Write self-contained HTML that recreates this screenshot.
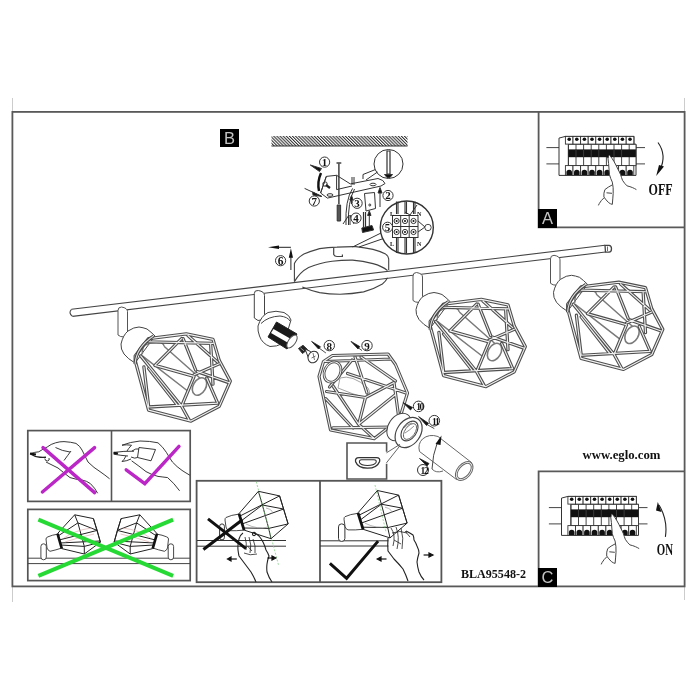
<!DOCTYPE html>
<html><head><meta charset="utf-8">
<style>
html,body{margin:0;padding:0;background:#fff;width:700px;height:700px;overflow:hidden}
svg{position:absolute;left:0;top:0;will-change:transform}
</style></head><body>
<svg width="700" height="700" viewBox="0 0 700 700">
<defs>
<pattern id="hatch" width="2.2" height="3" patternUnits="userSpaceOnUse" patternTransform="rotate(-45)">
<rect width="2.2" height="3" fill="#fff"/><rect width="1.05" height="3" fill="#333"/>
</pattern>
</defs>
<!-- frame ticks -->
<g stroke="#ccc" stroke-width="1">
<line x1="12.5" y1="98" x2="12.5" y2="112"/>
<line x1="12.5" y1="587" x2="12.5" y2="602"/>
<line x1="684.5" y1="98" x2="684.5" y2="112"/>
<line x1="684.5" y1="587" x2="684.5" y2="600"/>
</g>
<!-- frame -->
<rect x="12.4" y="111.9" width="672.2" height="474.5" fill="none" stroke="#595959" stroke-width="1.8"/>
<!-- box A -->
<path d="M538.6 112 V227.3 H684.6" fill="none" stroke="#595959" stroke-width="1.8"/>
<rect x="538" y="209" width="19" height="19" fill="#000"/>
<!-- box C -->
<path d="M538.6 586.4 V471.4 H684.6" fill="none" stroke="#595959" stroke-width="1.8"/>
<rect x="538" y="568" width="19" height="19" fill="#000"/>
<!-- label B -->
<rect x="220" y="129" width="19" height="18" fill="#000"/>
<!-- hatch -->
<rect x="271.5" y="136" width="136" height="10" fill="url(#hatch)"/>
<line x1="271.5" y1="146" x2="407.5" y2="146" stroke="#333" stroke-width="1"/>
<!-- magenta box -->
<rect x="27.8" y="430.6" width="162.4" height="70.8" fill="none" stroke="#555" stroke-width="1.7"/>
<line x1="111.5" y1="430.5" x2="111.5" y2="501.5" stroke="#555" stroke-width="1.6"/>
<!-- green box -->
<rect x="27.8" y="509.4" width="162.4" height="71.2" fill="none" stroke="#555" stroke-width="1.7"/>
<!-- middle box -->
<rect x="196.6" y="480.8" width="244.8" height="101.4" fill="none" stroke="#555" stroke-width="1.8"/>
<line x1="320" y1="481" x2="320" y2="582" stroke="#555" stroke-width="1.8"/>
<!-- small box -->
<path d="M386.6 451.7 V443 H347 V479 H386.6 V463.7" fill="none" stroke="#555" stroke-width="1.6"/>

<!-- ROD -->
<g fill="none" stroke="#444" stroke-width="1.1">
<path d="M71.5 309.3 L605 245.3 M72.5 316.4 L605.5 252"/>
<path d="M71.5 309.3 Q68 313 72.5 316.4"/>
<path d="M605 245.3 H609 Q611.5 245.5 611.5 248.7 Q611.5 252 609 252.1 H605.5 Z" fill="#fff" stroke-width="1.3"/><path d="M607.5 246.5 V251" stroke-width="0.8"/>
</g>
<!-- CANOPY -->
<g fill="none" stroke="#444" stroke-width="1.1">
<path d="M294.4 281.6 V263.6 Q297 258 303.9 254.1 Q311 251 319.6 248.6 Q328 247.3 336.9 247.1 Q346 246.5 355.7 246.6 Q365 247.5 373 249.4 Q381 251.5 385.6 254.1 Q388.5 256 388.7 258.9 V270"/>
<path d="M294.4 281.6 Q300 272 308.6 267.5 Q319 263 332.1 261.2 Q342 260 352.6 260.1 Q363 261 373 263.6 Q382 266 387.5 270.5"/>
<path d="M302.3 287.1 Q310 290.5 319.6 292.6 Q329 294.2 340 294.2 Q352 294 363.6 291.9 Q374 289 382.4 284 Q386 281 387.5 277.7"/>
<path d="M333.7 248 V254.5 Q334.5 256.5 337 256.5 H342.4 V254.5" stroke-width="1.2"/>
</g>

<defs>
<g id="cage">
<path d="M118 335 V310.5 Q118 307 121.5 307 Q127.5 308 127.5 311.5 V332 L124.5 337 Q120 337 118 335 Z" fill="#fff" stroke="#555" stroke-width="1"/>
<path d="M135 363 Q128 359 124 354 Q120.5 349 121 344 Q123 335 128 331 Q134 327 139 327 Q143 327.5 147 329 Q151 332 155 336 Z" fill="#fff" stroke="#444" stroke-width="1"/>
<path d="M164.3 346.5 L201 379 M142.3 355.9 L189 392 M142.3 354.4 Q142 347 145.4 344.9 Q152 341 161.1 342.6 Q164 344 164.3 346.5" fill="none" stroke="#7a7a7a" stroke-width="1.5"/>
<ellipse cx="199.5" cy="386.5" rx="6.3" ry="9.4" transform="rotate(30 199.5 386.5)" fill="#fff" stroke="#7a7a7a" stroke-width="1.6"/>
<path d="M135.2 355.9 L148.6 338.6 L186.3 333.9 L213 339.4 L219.3 360.6 L230.3 381.1 L219.3 406.2 L191 421.1 L148.6 410.1 L135.2 360.6 Z
M148.6 341.8 L213 343.4
M181.6 338.6 L154.9 365.4
M183.1 338.6 L195.7 370.1
M187.9 335.5 L217.7 362.2
M154.9 365.4 L194.1 376.4
M194.1 374.8 L219.3 363.8
M194.1 376.4 L181.6 406.2
M140.7 355.9 L181.6 406.2 L189.4 420.4
M206.7 378 L217.7 403.1
M148.6 407 L217.7 403.1
M143.9 366.9 L148.6 406.2
M210.6 343.4 L213 384.2
M197.3 371.6 L228.7 382.6
M148.6 368.5 L176.9 404.6" fill="none" stroke="#4f4f4f" stroke-width="3.3" stroke-linejoin="round" stroke-linecap="round"/>
<path d="M135.2 355.9 L148.6 338.6 L186.3 333.9 L213 339.4 L219.3 360.6 L230.3 381.1 L219.3 406.2 L191 421.1 L148.6 410.1 L135.2 360.6 Z
M148.6 341.8 L213 343.4
M181.6 338.6 L154.9 365.4
M183.1 338.6 L195.7 370.1
M187.9 335.5 L217.7 362.2
M154.9 365.4 L194.1 376.4
M194.1 374.8 L219.3 363.8
M194.1 376.4 L181.6 406.2
M140.7 355.9 L181.6 406.2 L189.4 420.4
M206.7 378 L217.7 403.1
M148.6 407 L217.7 403.1
M143.9 366.9 L148.6 406.2
M210.6 343.4 L213 384.2
M197.3 371.6 L228.7 382.6
M148.6 368.5 L176.9 404.6" fill="none" stroke="#f2f2f2" stroke-width="1.1" stroke-linejoin="round" stroke-linecap="round"/>
<path d="M135.1 364.1 Q136 347.5 153.4 336" fill="none" stroke="#444" stroke-width="3.2"/><path d="M135.1 364.1 Q136 347.5 153.4 336" fill="none" stroke="#ddd" stroke-width="1.1"/>
</g>
</defs>
<use href="#cage"/>
<use href="#cage" transform="translate(295,-34.5)"/>
<use href="#cage" transform="translate(432.5,-51.7)"/>

<!-- CAGE 2 -->
<g>
<path d="M340 378 Q352 374 368 388 Q372 395 366 398 Q352 394 338 388 Z" fill="#fff" stroke="#999" stroke-width="0.9"/>
<path d="M332.5 355.5 L388 354 L395.5 364.5 L407.5 393 L399.5 419 L374.3 438.6 L330.5 430 L319 376.5 L323.5 361.5 Z
M325 361.5 L391 359
M352 360 L329.5 387
M355 357 L367 393
M361 357 L395.5 381
M347.5 373.5 L406 393
M326.5 391.5 L365.5 397.5 L394 382.5
M365.5 397.5 L358.6 424.3 L374.3 438.6
M333 386 L358.6 424.3
M394 382.5 L398.5 415.5
M395 395 L358.6 424.3
M332.9 427.9 L394 427
M325.7 398.6 L353 428" fill="none" stroke="#4f4f4f" stroke-width="3.2" stroke-linejoin="round" stroke-linecap="round"/>
<path d="M332.5 355.5 L388 354 L395.5 364.5 L407.5 393 L399.5 419 L374.3 438.6 L330.5 430 L319 376.5 L323.5 361.5 Z
M325 361.5 L391 359
M352 360 L329.5 387
M355 357 L367 393
M361 357 L395.5 381
M347.5 373.5 L406 393
M326.5 391.5 L365.5 397.5 L394 382.5
M365.5 397.5 L358.6 424.3 L374.3 438.6
M333 386 L358.6 424.3
M394 382.5 L398.5 415.5
M395 395 L358.6 424.3
M332.9 427.9 L394 427
M325.7 398.6 L353 428" fill="none" stroke="#f2f2f2" stroke-width="1.1" stroke-linejoin="round" stroke-linecap="round"/>
<ellipse cx="332.5" cy="372" rx="8" ry="10.5" transform="rotate(25 332.5 372)" fill="#fff" stroke="#505050" stroke-width="2.8"/><ellipse cx="332.5" cy="372" rx="8" ry="10.5" transform="rotate(25 332.5 372)" fill="none" stroke="#fff" stroke-width="0.9"/>
</g>

<!-- HOLDER 2 -->
<g stroke="#444" stroke-width="1" fill="none">
<path d="M254.3 318 V293.5 Q254.3 290 258.3 290.5 Q264.5 291.5 264.5 295.5 V317 Q262 321 258 320.5 Z" fill="#fff"/>
<path d="M258 326 Q261 316 268 312.5 Q276 310 284 312.5 Q290 315.5 291 320 L284 343 Q276 347 270 346.5 Q262 343.5 259.5 336 Q257.5 331 258 326 Z" fill="#fff"/>
<path d="M261 323.5 Q268 316.5 280 316 Q288 317 290 321" />
<path d="M276.5 322 L297 334 L287 349 L268 337 Z" fill="#1a1a1a" stroke="#222"/>
<path d="M273.5 329 L293.5 340.5 L291 344.5 L271 333 Z" fill="#fff" stroke="none"/>
<ellipse cx="292" cy="341.5" rx="3.6" ry="7.5" transform="rotate(35 292 341.5)" fill="#fff" stroke="#555"/>
</g>
<!-- G9 bulb -->
<g stroke="#333" stroke-width="1" fill="#fff">
<path d="M298.5 348.5 L303 345.3 L307.5 349.5 L302.5 353.5 Z" fill="#222"/>
<path d="M300.5 348 L304 350.8" stroke="#bbb" stroke-width="0.8"/>
<path d="M305 349 L310.5 351.5 L316 362 L308.5 358 Z" fill="#fff"/>
<ellipse cx="313.3" cy="357" rx="5" ry="6" transform="rotate(30 313.3 357)"/>
<path d="M313 353 L314.5 360 M311.5 358 L315.5 356" stroke="#555" stroke-width="0.8"/>
</g>
<!-- part number circles -->
<g fill="#fff" stroke="#333" stroke-width="1">
<circle cx="329.3" cy="345.6" r="5.2"/>
<circle cx="367" cy="345.6" r="5.2"/>
<circle cx="418.6" cy="406.4" r="5.3"/>
<circle cx="434.3" cy="420.7" r="5.3"/>
<circle cx="423" cy="470" r="5.5"/>
</g>
<g font-family="Liberation Serif" font-weight="bold" fill="#111" text-anchor="middle">
<text x="329.3" y="349.6" font-size="11">8</text>
<text x="367" y="349.6" font-size="11">9</text>
<text x="419.6" y="410.2" font-size="9.5" letter-spacing="-1.3">10</text>
<text x="435.3" y="424.5" font-size="9.5" letter-spacing="-1.3">11</text>
<text x="424" y="473.8" font-size="9.5" letter-spacing="-1.3">12</text>
</g>
<!-- arrows -->
<g fill="#111" stroke="#222" stroke-width="0.8">
<path d="M311.6 341.4 L320.5 346.8 L318.5 349 Z"/><line x1="319" y1="348" x2="325.9" y2="353"/>
<path d="M351 341.4 L359.8 346.6 L358 349 Z"/><line x1="358.5" y1="348" x2="362" y2="350.5"/>
<path d="M402.9 402.5 L412.5 407.5 L410.5 410 Z"/>
<path d="M418.6 416.6 L428.5 423.3 L426.5 425.5 Z"/><line x1="427" y1="424.5" x2="434.3" y2="428.6"/>
<path d="M419.5 458.5 L429 463.5 L427 466 Z"/>
</g>
<!-- RING -->
<g stroke="#444" stroke-width="1" fill="#fff">
<ellipse cx="399" cy="427" rx="10.5" ry="15" transform="rotate(35 399 427)"/>
<ellipse cx="408.6" cy="432.5" rx="11.8" ry="16.5" transform="rotate(35 408.6 432.5)" stroke-width="1.2"/>
<ellipse cx="409.5" cy="431" rx="7" ry="11" transform="rotate(35 409.5 431)" stroke-width="1.1"/>
<ellipse cx="410" cy="431.5" rx="5" ry="9" transform="rotate(35 410 431.5)" stroke="#666" stroke-width="0.9"/>
<path d="M404 428 Q407 424 412 423 M405 433 Q410 430 414 426" fill="none" stroke="#777" stroke-width="0.8"/>
</g>
<!-- callout lines small box -->
<g stroke="#555" stroke-width="0.9" fill="none">
<path d="M386.4 452.9 L400 444.3 M386.4 462.9 L400 445.7"/>
</g>
<!-- D shape -->
<path d="M359 457.7 H376.5 Q380.5 457.7 379.6 461.5 Q377 468.2 367.5 468.2 Q358 468.2 355.6 461.8 Q354.8 457.7 359 457.7 Z" fill="#fff" stroke="#333" stroke-width="1.3"/>
<path d="M361.5 459.8 H374 Q377 459.8 376 462.5 Q374 465.5 367.5 465.5 Q361 465.5 359.6 462.8 Q358.8 459.8 361.5 459.8 Z" fill="none" stroke="#333" stroke-width="1.1"/>
<!-- TUBE -->
<g stroke="#666" stroke-width="1" fill="#fff">
<path d="M438 436.5 L471.5 462.5 L456.5 479.5 L419.5 451.5 Q417.5 444 422.5 439 Q429 433.5 438 436.5 Z"/>
<ellipse cx="464.2" cy="471" rx="7" ry="10.8" transform="rotate(40 464.2 471)"/>
<ellipse cx="464.2" cy="471" rx="5.3" ry="9" transform="rotate(40 464.2 471)"/>
<path d="M432 469 Q432.5 455 437.5 442" fill="none" stroke="#444"/>
<path d="M441.5 435.5 L435.5 444 L440.5 445 Z" fill="#111" stroke="none"/>
<path d="M432 469 Q436 473.5 443 471" fill="none"/>
</g>

<!-- CEILING BRACKET ASSEMBLY -->
<g stroke="#333" stroke-width="1" fill="none">
<!-- plate -->
<path d="M320.6 193 L326.3 176.4 L336.6 175.3 L350.3 183.9 L378 178.5 Q384 180 385 183.5 L381 186 L327.4 198.1 Z" fill="#fff"/>
<path d="M336.6 175.3 V189.6 M326.3 176.4 L320.6 193"/>
<path d="M336.6 189.6 L352 186"/>
<ellipse cx="330" cy="195" rx="3" ry="1.3"/><ellipse cx="373" cy="184.5" rx="3" ry="1.3"/>
<!-- long screw -->
<path d="M338.9 163.5 V204" stroke-width="1.4"/>
<path d="M336.5 163 H341.3" stroke-width="1.4"/>
<path d="M337.2 205 H340.6 V221 H337.2 Z" fill="#555"/>
<!-- clip 7 -->
<path d="M321 173 Q317 182 319 191" stroke="#111" stroke-width="2.4"/>
<circle cx="325" cy="184" r="2.2"/><path d="M326 185 L330 188" stroke-width="2.2" stroke="#222"/>
<!-- post -->
<path d="M352 177 V185 M354 177 V185"/>
<!-- wires -->
<path d="M352.6 188.4 Q345 200 346 225 M354.5 189 Q347.5 202 348.5 225 M349 215 L343 224 M350 215 L350 225 M350 215 L354 224"/>
<!-- small bracket -->
<path d="M364.5 193.5 L374.5 192.5 L375.5 208.5 L366 211 Z" fill="#fff"/>
<circle cx="369.8" cy="205" r="1"/>
<path d="M363.5 212 V229 M365.5 212 V229" stroke-width="1.2"/>
<path d="M361.8 228 L372 225.5 L373.6 230 L362.5 232.5 Z" fill="#111"/>
<!-- callout circle -->
<circle cx="388.5" cy="164" r="14.5" fill="#fff"/>
<path d="M375.5 169.5 L363 174.5 V179 M377.5 172 L366 180"/>
<path d="M387 151 L390 151 L390 174 L387 174 Z" fill="#fff" stroke-width="1.2"/>
<path d="M384.5 174.5 H392.5 L390 177.5 H387 Z" fill="#111"/>
<!-- arrow 2 -->
<path d="M380 207 V190"/>
<path d="M380 187.5 L378 193 L382 193 Z" fill="#111"/>
<!-- arrow 3 -->
<path d="M351.5 204 V197"/><path d="M351.5 195.5 L349.8 200 L353.2 200 Z" fill="#111"/>
<!-- arrow 4 -->
<path d="M369.3 226 V213"/><path d="M369.3 210.7 L367.6 215.5 L371 215.5 Z" fill="#111"/>
<!-- arrows 1,7 -->
<path d="M310.3 165 L321.5 168.5 L319.5 171.5 Z" fill="#111"/>
<path d="M304.6 188.4 L321.7 196.4"/>
<path d="M312.6 191.9 L321.7 196.4 L313 195 Z" fill="#111"/>
</g>
<g fill="#fff" stroke="#333" stroke-width="1">
<circle cx="324.6" cy="162.1" r="5.1"/>
<circle cx="314.3" cy="201" r="5.1"/>
<circle cx="357.1" cy="203.3" r="5.1"/>
<circle cx="356" cy="218.1" r="5.1"/>
<circle cx="388" cy="195.5" r="5.1"/>
</g>
<g font-family="Liberation Serif" font-weight="bold" fill="#111" text-anchor="middle" font-size="11">
<text x="324.6" y="166">1</text>
<text x="314.3" y="204.9">7</text>
<text x="357.1" y="207.2">3</text>
<text x="356" y="222">4</text>
<text x="388" y="199.4">2</text>
</g>

<defs>
<g id="panel">
<path d="M546.4 147.6 H559 M546.4 163.9 H559 M636 147.6 H645 M636 163.9 H645" stroke="#444" stroke-width="1"/>
<path d="M559 175.4 V138.1 L565.4 136.4 H634 V144.3 H636 V175.4 Z" fill="#fff" stroke="#333" stroke-width="1"/>
<path d="M568.4 144.3 H636 V165.6 H568.4 Z" fill="#fff" stroke="#333" stroke-width="0.9"/>
<rect x="565.4" y="136.4" width="7.6" height="7.7" fill="#fff" stroke="#333" stroke-width="0.9"/><circle cx="569.2" cy="139.3" r="1.8" fill="#111"/><rect x="565.4" y="165.6" width="7.6" height="9.8" fill="#fff" stroke="#333" stroke-width="0.9"/><path d="M566.4 175 V172.5 A2.8 2.8 0 0 1 572.0 172.5 V175 Z" fill="#111"/><rect x="573.0" y="136.4" width="7.6" height="7.7" fill="#fff" stroke="#333" stroke-width="0.9"/><circle cx="576.8" cy="139.3" r="1.8" fill="#111"/><rect x="573.0" y="165.6" width="7.6" height="9.8" fill="#fff" stroke="#333" stroke-width="0.9"/><path d="M574.0 175 V172.5 A2.8 2.8 0 0 1 579.6 172.5 V175 Z" fill="#111"/><rect x="580.6" y="136.4" width="7.6" height="7.7" fill="#fff" stroke="#333" stroke-width="0.9"/><circle cx="584.4" cy="139.3" r="1.8" fill="#111"/><rect x="580.6" y="165.6" width="7.6" height="9.8" fill="#fff" stroke="#333" stroke-width="0.9"/><path d="M581.6 175 V172.5 A2.8 2.8 0 0 1 587.2 172.5 V175 Z" fill="#111"/><rect x="588.2" y="136.4" width="7.6" height="7.7" fill="#fff" stroke="#333" stroke-width="0.9"/><circle cx="592.0" cy="139.3" r="1.8" fill="#111"/><rect x="588.2" y="165.6" width="7.6" height="9.8" fill="#fff" stroke="#333" stroke-width="0.9"/><path d="M589.2 175 V172.5 A2.8 2.8 0 0 1 594.8 172.5 V175 Z" fill="#111"/><rect x="595.8" y="136.4" width="7.6" height="7.7" fill="#fff" stroke="#333" stroke-width="0.9"/><circle cx="599.6" cy="139.3" r="1.8" fill="#111"/><rect x="595.8" y="165.6" width="7.6" height="9.8" fill="#fff" stroke="#333" stroke-width="0.9"/><path d="M596.8 175 V172.5 A2.8 2.8 0 0 1 602.4 172.5 V175 Z" fill="#111"/><rect x="603.4" y="136.4" width="7.6" height="7.7" fill="#fff" stroke="#333" stroke-width="0.9"/><circle cx="607.2" cy="139.3" r="1.8" fill="#111"/><rect x="603.4" y="165.6" width="7.6" height="9.8" fill="#fff" stroke="#333" stroke-width="0.9"/><path d="M604.4 175 V172.5 A2.8 2.8 0 0 1 610.0 172.5 V175 Z" fill="#111"/><rect x="611.0" y="136.4" width="7.6" height="7.7" fill="#fff" stroke="#333" stroke-width="0.9"/><circle cx="614.8" cy="139.3" r="1.8" fill="#111"/><rect x="611.0" y="165.6" width="7.6" height="9.8" fill="#fff" stroke="#333" stroke-width="0.9"/><path d="M612.0 175 V172.5 A2.8 2.8 0 0 1 617.6 172.5 V175 Z" fill="#111"/><rect x="618.6" y="136.4" width="7.6" height="7.7" fill="#fff" stroke="#333" stroke-width="0.9"/><circle cx="622.4" cy="139.3" r="1.8" fill="#111"/><rect x="618.6" y="165.6" width="7.6" height="9.8" fill="#fff" stroke="#333" stroke-width="0.9"/><path d="M619.6 175 V172.5 A2.8 2.8 0 0 1 625.2 172.5 V175 Z" fill="#111"/><rect x="626.2" y="136.4" width="7.6" height="7.7" fill="#fff" stroke="#333" stroke-width="0.9"/><circle cx="630.0" cy="139.3" r="1.8" fill="#111"/><rect x="626.2" y="165.6" width="7.6" height="9.8" fill="#fff" stroke="#333" stroke-width="0.9"/><path d="M627.2 175 V172.5 A2.8 2.8 0 0 1 632.8 172.5 V175 Z" fill="#111"/><line x1="568.4" y1="144.3" x2="568.4" y2="165.6" stroke="#333" stroke-width="0.9"/><line x1="576.0" y1="144.3" x2="576.0" y2="165.6" stroke="#333" stroke-width="0.9"/><line x1="583.6" y1="144.3" x2="583.6" y2="165.6" stroke="#333" stroke-width="0.9"/><line x1="591.2" y1="144.3" x2="591.2" y2="165.6" stroke="#333" stroke-width="0.9"/><line x1="598.8" y1="144.3" x2="598.8" y2="165.6" stroke="#333" stroke-width="0.9"/><line x1="606.4" y1="144.3" x2="606.4" y2="165.6" stroke="#333" stroke-width="0.9"/><line x1="614.0" y1="144.3" x2="614.0" y2="165.6" stroke="#333" stroke-width="0.9"/><line x1="621.6" y1="144.3" x2="621.6" y2="165.6" stroke="#333" stroke-width="0.9"/><line x1="629.2" y1="144.3" x2="629.2" y2="165.6" stroke="#333" stroke-width="0.9"/>
<rect x="568.4" y="149.4" width="67.5" height="7.8" fill="#111"/>
<g stroke="#555" stroke-width="0.6">
<line x1="576" y1="149.8" x2="576" y2="156.8"/><line x1="583.6" y1="149.8" x2="583.6" y2="156.8"/><line x1="591.2" y1="149.8" x2="591.2" y2="156.8"/><line x1="598.8" y1="149.8" x2="598.8" y2="156.8"/><line x1="614" y1="149.8" x2="614" y2="156.8"/><line x1="621.6" y1="149.8" x2="621.6" y2="156.8"/>
</g>
</g>
</defs>
<use href="#panel"/>
<use href="#panel" transform="translate(2.5,360)"/>
<!-- finger A -->
<defs><g id="finger">
<path d="M607.6 154.3 Q608 159 608.6 163.6 Q609 169 609.5 174.7 Q610.5 178.5 612.3 182.1 Q613.5 187.5 613.2 193.3 Q612.8 199 612.3 204.4 L618 200 L636.4 189.6 Q634.5 188.5 632.7 187.7 Q630 186.5 627.1 185.9 Q624.5 183.5 622.5 180.3 Q621.5 177.5 620.6 174.7 Q619.5 172 617.9 169.1 Q616 165 614.1 161.7 Q612 158 609.5 155.2 Z" fill="#fff" stroke="none"/>
<g fill="none" stroke="#444" stroke-width="1">
<path d="M607.6 154.3 Q608 159 608.6 163.6 Q609 169 609.5 174.7 Q610.5 178.5 612.3 182.1 Q613.5 187.5 613.2 193.3 Q612.8 199 612.3 204.4"/>
<path d="M609.5 155.2 Q612 158 614.1 161.7 Q616 165 617.9 169.1 Q619.5 172 620.6 174.7 Q621.5 177.5 622.5 180.3 Q624.5 183.5 627.1 185.9 Q630 186.5 632.7 187.7 Q634.5 188.5 636.4 189.6"/>
<path d="M612.3 184.9 Q608 187 604.9 189.6 Q603.5 193 603.9 197 Q606 200 608.6 202.6 Q610.5 204 612.3 204.4"/>
<path d="M603.9 197.9 Q601 200.5 599.3 203.5 L598.4 205.4 M606.5 192.8 L612 193.3"/>
</g>
<path d="M604 151 Q606 150 609.5 151.5 L608.5 158 Q605 157 604 151 Z" fill="#111"/>
</g></defs>
<use href="#finger"/>
<use href="#finger" transform="translate(2.8,359)"/>
<!-- arrows and OFF/ON -->
<g fill="none" stroke="#222" stroke-width="1.1">
<path d="M658 142.5 Q667 155 660 170"/>
<path d="M665.5 501.5 M665.4 536.8 Q668 520 659 505"/>
</g>
<path d="M664 166.5 L656.2 176 L659 165 Z" fill="#111"/>
<path d="M657.8 502 L661.5 512 L656 510.5 Z" fill="#111"/>
<g font-family="Liberation Serif" font-weight="bold" fill="#111">
<text x="648.5" y="195.3" font-size="17" transform="translate(648.5 195.3) scale(0.71 1) translate(-648.5 -195.3)">OFF</text>
<text x="656.8" y="555.2" font-size="17.5" transform="translate(656.8 555.2) scale(0.62 1) translate(-656.8 -555.2)">ON</text>
</g>

<!-- LABEL LETTERS -->
<g font-family="Liberation Sans" fill="#c4c4c4" font-size="16.5" text-anchor="middle">
<text x="229.5" y="144">B</text>
<text x="547.5" y="224">A</text>
<text x="547.5" y="583">C</text>
</g>
<!-- TEXTS -->
<text x="582.5" y="458.6" font-family="Liberation Serif" font-weight="bold" font-size="13.5" fill="#111" textLength="78" lengthAdjust="spacingAndGlyphs">www.eglo.com</text>
<text x="461" y="578" font-family="Liberation Serif" font-weight="bold" font-size="12.5" fill="#111" textLength="65" lengthAdjust="spacingAndGlyphs">BLA95548-2</text>
<!-- WIRING CIRCLE -->
<g stroke="#333" stroke-width="1" fill="none">
<path d="M381 233 L352.6 247 M383.5 238.5 L359 247"/>
<circle cx="406.8" cy="227.5" r="26.5" fill="#fff" stroke-width="1.4"/>
<path d="M396.5 214 V201.5 M398 214 V201.5 M405 214 V201.5 M406.5 214 V201.5 M413.5 214 V201.5 M415 214 V201.5" stroke-width="1.1"/>
<path d="M396.5 237 V253 M398 237 V253 M405 237 V253.5 M406.5 237 V253.5 M413.5 237 V253 M415 237 V253" stroke-width="1.1"/>
<rect x="392.5" y="215.5" width="25.5" height="22" fill="#fff"/>
<path d="M400.7 215.5 V237.5 M409.2 215.5 V237.5 M392.5 226.5 H418"/>
<circle cx="396.6" cy="221" r="2.6"/><circle cx="405" cy="221" r="2.6"/><circle cx="413.5" cy="221" r="2.6"/>
<circle cx="396.6" cy="232" r="2.6"/><circle cx="405" cy="232" r="2.6"/><circle cx="413.5" cy="232" r="2.6"/>
<path d="M418 221 L425 227 L418 232"/>
<path d="M405 212 L410 215 M410 215 L417 205"/>
</g>
<g fill="#111" stroke="none">
<circle cx="396.6" cy="221" r="1"/><circle cx="405" cy="221" r="1"/><circle cx="413.5" cy="221" r="1"/>
<circle cx="396.6" cy="232" r="1"/><circle cx="405" cy="232" r="1"/><circle cx="413.5" cy="232" r="1"/>
</g>
<circle cx="387.6" cy="227.2" r="5" fill="#fff" stroke="#333" stroke-width="1"/>
<circle cx="428" cy="227.5" r="3.2" fill="#fff" stroke="#333" stroke-width="0.9"/>
<g font-family="Liberation Serif" font-weight="bold" fill="#111">
<text x="387.6" y="231" font-size="11" text-anchor="middle">5</text>
<text x="390" y="215.5" font-size="6">L</text>
<text x="390" y="245.5" font-size="6">L</text>
<text x="417" y="215.5" font-size="6">N</text>
<text x="417" y="245.5" font-size="6">N</text>
</g>
<!-- ARROW 6 -->
<g stroke="#222" stroke-width="1" fill="none">
<path d="M290.9 270 V255 M290.9 247.3 H278"/>
</g>
<path d="M290.9 248.2 L288.8 257.8 L293 257.8 Z M268 247.3 L279 245.6 L279 249 Z" fill="#111"/>
<circle cx="280.6" cy="260.7" r="5.1" fill="#fff" stroke="#333" stroke-width="1"/>
<text x="280.6" y="264.6" font-family="Liberation Serif" font-weight="bold" font-size="11.5" fill="#111" text-anchor="middle">6</text>

<!-- MAGENTA BOX CONTENT -->
<g fill="none" stroke="#222" stroke-width="0.9" stroke-linejoin="round">
<!-- left hand -->
<path d="M30.4 453.6 Q35 452 38.8 451.8 Q43 449 47.2 447 Q51 444 55.6 442.8 Q60 441.5 64 441.6 Q71 442 76 443.4 Q80 446 82 450 Q85 456 88 462 Q94 468 100 471.6 Q105 475 109.6 478.8"/>
<path d="M30.4 454 Q35 457 40 457.2 Q43 457.5 46 457.2" stroke-width="1.4"/>
<path d="M30 453.5 L36 454.5" stroke="#111" stroke-width="2.2"/>
<path d="M46 462 Q52 465 58 468 Q64 473 70 477.6 Q76 479.5 82 480 Q87 481 90.4 483.6 Q95 488 97.6 493.2"/>
<path d="M44.8 458.5 Q45 461 47.5 461 Q50 460.5 49 458"/>
<path d="M55.5 447.5 Q62 451 70 452 M64 460.5 Q68 455 71 451"/>
<!-- right hand -->
<path d="M122 445.2 Q130 442 140 441 Q150 441 158 442.8 Q163 447 166.4 452.4 Q169 457 172.4 462 Q177 467 182 470.4 Q186 473 189.8 475.2"/>
<path d="M113.6 452.4 Q124 451 134 451.2 M113.6 454.2 Q121 455.5 128 456"/>
<path d="M113.6 452.8 L118 453.5" stroke="#111" stroke-width="2.2"/>
<path d="M122 445.2 Q126 444.5 131.5 445.2 Q128 449 127 451 M126 456 Q124 460 122 461.5 Q127 461 131 459"/>
<path d="M139 447.5 L155.5 449.5 L151 460.8 L137.5 457.5 Z M132 451 Q136 448 139 449 M131 457 Q135 459 137.5 457.5"/>
<path d="M131.6 460.8 Q139 466 146 471.6 Q152 475 158 476.4 Q163 477 167.6 477.6 Q174 483 179.6 490.8"/>
</g>
<g fill="none" stroke="#bb26c6" stroke-width="3.4" stroke-linecap="round">
<path d="M43 447.6 L94.6 492.6 M42.4 492 L94.6 447.6"/>
<path d="M126.2 469.8 L144.8 483.6 L179 446.4"/>
</g>
<!-- GREEN BOX CONTENT -->
<path d="M27.8 558.2 H190.2 M27.8 563.6 H190.2" fill="none" stroke="#444" stroke-width="1"/>
<defs><g id="gcage">
<rect x="40.9" y="543.8" width="5.4" height="16" rx="2.7" fill="#fff" stroke="#333" stroke-width="0.9"/>
<path d="M48 536.8 Q52 535 58 534.1 L61.8 548 Q56 550 50 551.3 Q47.5 550 47 548 L46 539 Q46 537.5 48 536.8 Z" fill="#fff" stroke="#333" stroke-width="0.9"/>
<g fill="none" stroke="#222" stroke-width="1" stroke-linejoin="round">
<path d="M57.5 533.6 L74.7 514.8 L93.4 518.6 L100.4 542.2 L84.3 554 L61.8 548.6"/>
<path d="M74.7 514.8 L77.9 522.9 L84.3 546.4 L84.3 554 M93.4 518.6 L97.2 530.4 L100.4 542.2 M77.9 522.9 L97.2 530.4 M84.3 546.4 L100.4 542.2 M58 536 L77.9 522.9 M59 540 L97.2 530.4 M60.5 545 L84.3 546.4 M59.5 543 L100 541"/>
<path d="M57.5 533.6 L61.8 548.6" stroke="#111" stroke-width="2.6"/>
<path d="M64 538 Q75 530 92 528 M65 542 Q80 537 94 534" stroke="#d9a0a0" stroke-width="0.6"/>
</g>
</g></defs>
<use href="#gcage"/>
<use href="#gcage" transform="matrix(-1 0 0 1 214.5 0)"/>
<g fill="none" stroke="#27d935" stroke-width="4">
<path d="M38.4 519.6 L173.1 575.9 M38.4 575.9 L173.1 519.6"/>
</g>
<!-- MIDDLE BOX LEFT -->
<g fill="none" stroke="#333" stroke-width="1">
<path d="M197 540.5 H286 M197 546.2 H286 M320 540.8 H388.4 M320 546 H388.4"/>
<rect x="219.6" y="523.9" width="4.8" height="16" rx="2.4" fill="#fff"/>
<rect x="338.5" y="523.9" width="6.4" height="17.5" rx="3" fill="#fff"/>
</g>
<defs><g id="mcage">
<path d="M226 517.5 Q231 515 239 514.1 L244.1 530.1 Q236 531 229 530.7 Q226.5 530 226 527 L225 520 Q225 518 226 517.5 Z" fill="#fff" stroke="#333" stroke-width="0.9"/>
<g fill="none" stroke="#222" stroke-width="1" stroke-linejoin="round">
<path d="M239 513.6 L258.4 491.3 L279.6 495.9 L288.1 523.9 L271 538.7 L244.1 530.1"/>
<path d="M258.4 491.3 L262.4 505 L268.7 528.4 L271 538.7 M279.6 495.9 L283.6 509 L288.1 523.9 M262.4 505 L283.6 509 M268.7 528.4 L288.1 523.9 M240 516 L279.6 495.9 M241 521 L262.4 505 M242 524 L283.6 509 M243.5 528 L268.7 528.4"/>
<path d="M239 513.6 L244.1 530.1" stroke="#111" stroke-width="2.8"/>
<path d="M246 524 Q258 530 268 527 M266 508 Q274 510 272 514" stroke="#999" stroke-width="0.7"/>
</g>
</g></defs>
<use href="#mcage"/>
<use href="#mcage" transform="translate(119,-0.8)"/>
<g fill="none" stroke="#7c7" stroke-width="0.7" stroke-dasharray="2 1.5">
<path d="M256.3 481.7 L278.6 565.3 M375 485 L386 532"/>
</g>
<!-- hands middle -->
<g fill="none" stroke="#222" stroke-width="1.1" stroke-linejoin="round">
<path d="M243 533 Q240 535 239 539 Q237.5 545 238 550 Q238.5 554 239 556 Q242 560 245 564 Q248 568 251 572 Q254 577 256 582"/>
<path d="M254 533 Q257 534 259 536 Q261.5 539 263 542 Q265 546 266 550 Q268 553 269 556 Q267.5 560 267 564 Q266.5 568 267 572 Q269 578 272 582"/>
<path d="M245 537 Q247 543 246 550 M249 537 Q252 545 250 553 M253 539 Q256 546 255 553 M247.5 546 L252 551 M244 553 Q250 556 257 554" stroke-width="0.8"/>
<circle cx="254" cy="534" r="1.6"/>
<path d="M388 538 Q387.5 545 388 551 Q391 555 394 559 Q399 564 403 569 Q406 575 408 581"/>
<path d="M406 531 Q410 533 413 535 Q414 537 414 540 Q416 543 417 546 Q419 550 419 553 Q417.5 558 417 562 Q417.5 567 419 572 Q421 577 424 580"/>
<path d="M391 528 Q396 535 393 546 M396 527 Q400 537 397 549 M401 528 Q404 538 402 549 M394 540 L401 544 M392 533 Q400 530 407 533 M405 531 L410 537" stroke-width="0.8"/>
</g>
<g fill="none" stroke="#111" stroke-width="3">
<path d="M208 518.9 L246 548.6 M203.4 549.5 L242.4 519.8"/>
<path d="M329.9 563.4 L346.6 578.3 L378.1 541.1"/>
</g>
<g fill="#111" stroke="#111" stroke-width="1.2">
<path d="M229 559 H236.8"/><path d="M227.5 559 L231 557 L231 561 Z"/>
<path d="M267.4 558 H274"/><path d="M275.8 558 L272 556 L272 560 Z"/>
<path d="M378.7 559 H386.5"/><path d="M377.2 559 L381 557 L381 561 Z"/>
<path d="M423.6 555 H431"/><path d="M433 555 L429 553 L429 557 Z"/>
</g>
</svg>
</body></html>
